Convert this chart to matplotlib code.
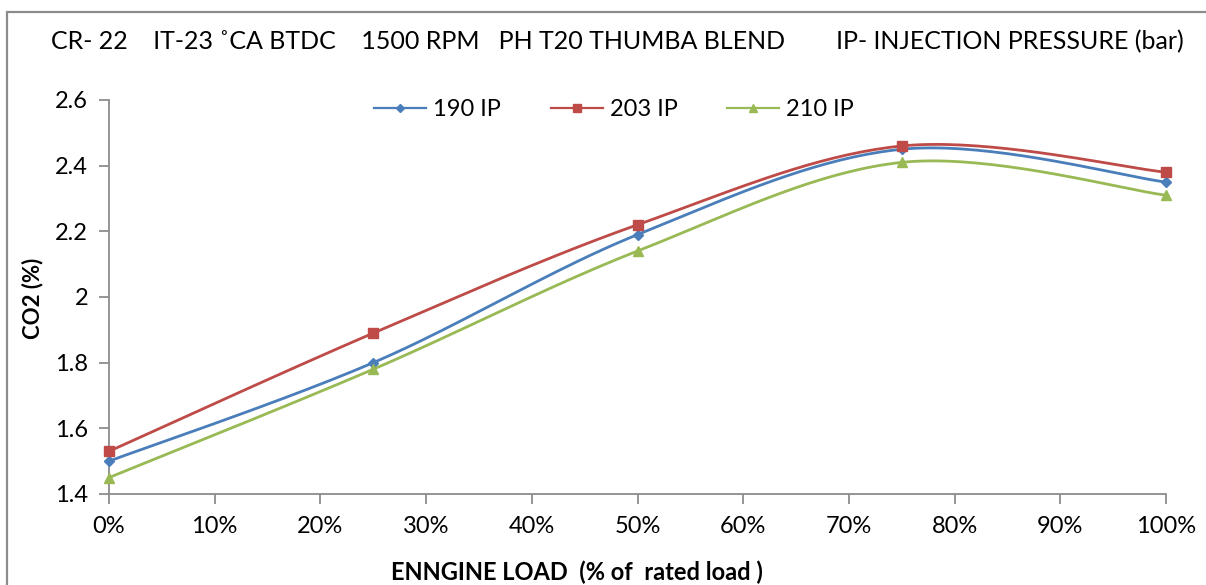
import numpy as np
import matplotlib
matplotlib.use("Agg")
import matplotlib.pyplot as plt
from matplotlib.patches import Rectangle
from matplotlib.lines import Line2D

# Engine load (% of rated load) and CO2 (%) for each injection pressure
load = [0, 25, 50, 75, 100]
co2_190 = [1.50, 1.80, 2.19, 2.45, 2.35]
co2_203 = [1.53, 1.89, 2.22, 2.46, 2.38]
co2_210 = [1.45, 1.78, 2.14, 2.41, 2.31]
series_labels = ["190 IP", "203 IP", "210 IP"]
x_ticks = [0, 10, 20, 30, 40, 50, 60, 70, 80, 90, 100]
y_ticks = [1.4, 1.6, 1.8, 2.0, 2.2, 2.4, 2.6]
y_tick_labels = ["1.4", "1.6", "1.8", "2", "2.2", "2.4", "2.6"]

title = "CR- 22    IT-23 \u02daCA BTDC    1500 RPM   PH T20 THUMBA BLEND        IP- INJECTION PRESSURE (bar)"

plt.rcParams['font.family'] = ['Lato', 'DejaVu Sans']

W, H = 1206, 585
fig = plt.figure(figsize=(W / 100, H / 100), dpi=100)
ax = fig.add_axes([109 / W, 1 - 494 / H, (1166 - 109) / W, (494 - 100) / H])

# chart-area frame (extends past right/bottom edges)
fig.patches.append(Rectangle((7 / W, -0.05), 1.1, 1 - 12 / H + 0.05,
                             transform=fig.transFigure, fill=False,
                             edgecolor="#8c8c8c", linewidth=1.6, clip_on=False))

ax.set_xlim(0, 100)
ax.set_ylim(1.4, 2.6)


def smooth(xs, ys, ax_w, ax_h, n=40):
    """Bezier smoothing in screen-like units, similar to spreadsheet smoothed lines."""
    px = np.asarray(xs, float) / 100.0 * ax_w
    py = (np.asarray(ys, float) - 1.4) / 1.2 * ax_h
    P = np.column_stack([px, py])
    out = [P[0]]
    t = np.linspace(0, 1, n)[1:]
    for i in range(len(P) - 1):
        p0 = P[i - 1] if i > 0 else P[i]
        p1 = P[i]
        p2 = P[i + 1]
        p3 = P[i + 2] if i + 2 < len(P) else P[i + 1]
        c1 = p1 + (p2 - p0) / 6.0
        c2 = p2 - (p3 - p1) / 6.0
        seg = ((1 - t)[:, None] ** 3 * p1 + 3 * ((1 - t) ** 2 * t)[:, None] * c1
               + 3 * ((1 - t) * t ** 2)[:, None] * c2 + (t ** 3)[:, None] * p2)
        out.extend(seg)
    out = np.array(out)
    return out[:, 0] / ax_w * 100.0, out[:, 1] / ax_h * 1.2 + 1.4


ax_w, ax_h = 1057, 394
colors = ["#4A7EBB", "#BE4B48", "#98B954"]
markers = ["D", "s", "^"]
msizes = [5, 7, 7]
handles = []
for ys, c, m, ms, lab in zip([co2_190, co2_203, co2_210], colors, markers, msizes, series_labels):
    sx, sy = smooth(load, ys, ax_w, ax_h)
    ax.plot(sx, sy, color=c, linewidth=2.0, solid_capstyle="round", zorder=3)
    ax.plot(load, ys, linestyle="none", marker=m, markersize=ms, color=c,
            markeredgecolor=c, zorder=4, clip_on=False)
    handles.append(Line2D([0], [0], color=c, linewidth=1.6, marker=m,
                          markersize=ms - 1, markeredgecolor=c, label=lab))

ax.set_xticks(x_ticks)
ax.set_xticklabels([f"{v}%" for v in x_ticks])
ax.set_yticks(y_ticks)
ax.set_yticklabels(y_tick_labels)

for s in ["top", "right"]:
    ax.spines[s].set_visible(False)
for s in ["left", "bottom"]:
    ax.spines[s].set_color("#8c8c8c")
    ax.spines[s].set_linewidth(1.3)
ax.tick_params(axis="both", direction="out", length=7, width=1.3, color="#8c8c8c",
               labelsize=17, labelcolor="black")
ax.tick_params(axis="x", pad=9)
ax.tick_params(axis="y", pad=8)

ax.set_xlabel("ENNGINE LOAD  (% of  rated load )", fontsize=17, fontweight="bold")
ax.xaxis.label.set_va("center")
ax.xaxis.set_label_coords((577 - 109) / 1057, -(572 - 494) / 394)
ax.set_ylabel("CO2 (%)", fontsize=16, fontweight="bold")
ax.yaxis.label.set_va("center")
ax.yaxis.set_label_coords(-(109 - 33) / 1057, (494 - 298) / 394)

fig.text(617 / W, 1 - 42 / H, title, ha="center", va="center", fontsize=18)

leg = ax.legend(handles=handles, loc="center", bbox_to_anchor=((614 - 109) / 1057, (494 - 110) / 394),
                ncol=3, frameon=False, fontsize=17, handlelength=2.2, columnspacing=2.1,
                handletextpad=0.3)

fig.savefig("out.png", dpi=100)
